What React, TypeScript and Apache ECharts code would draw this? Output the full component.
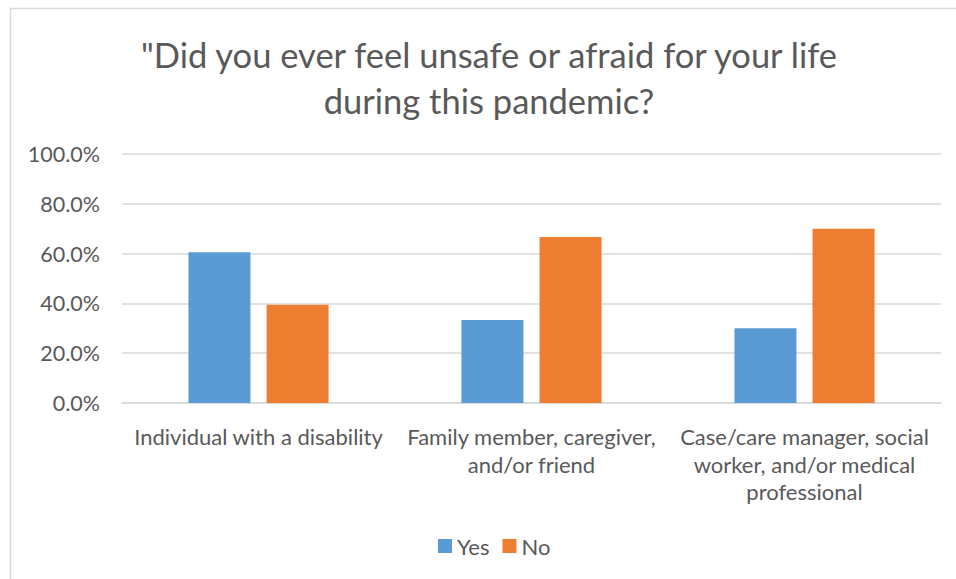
import React, { useEffect, useRef } from "react";
import * as echarts from "echarts";

const titleText = '"Did you ever feel unsafe or afraid for your life\nduring this pandemic?';
const categories = [
  "Individual with a disability",
  "Family member, caregiver,\nand/or friend",
  "Case/care manager, social\nworker, and/or medical\nprofessional",
];
const seriesNames = ["Yes", "No"];
const yesValues = [60.5, 33.3, 30.0];
const noValues = [39.5, 66.7, 70.0];
const colors = ["#5B9BD5", "#ED7D31"];

const FONT = "Lato, 'Open Sans', sans-serif";
const TEXT = "#595959";
const GRID = "#D9D9D9";

export default function App() {
  const ref = useRef<HTMLDivElement>(null);
  useEffect(() => {
    if (!ref.current) return;
    const chart = echarts.init(ref.current, null, { renderer: "svg" });
    chart.setOption({
      animation: false,
      backgroundColor: "#ffffff",
      textStyle: { fontFamily: FONT },
      graphic: [
        {
          type: "rect",
          shape: { x: 10.5, y: 8.5, width: 980, height: 600 },
          style: { fill: "none", stroke: GRID, lineWidth: 1.5 },
          silent: true,
        },
        {
          type: "text",
          x: 489,
          y: 31,
          style: {
            text: titleText,
            textAlign: "center",
            textVerticalAlign: "top",
            fill: TEXT,
            font: `34.5px ${FONT}`,
            lineHeight: 46,
          },
        },
      ],
      legend: {
        data: seriesNames,
        left: 438,
        top: 535,
        itemWidth: 14,
        itemHeight: 14,
        itemGap: 13,
        icon: "rect",
        textStyle: { color: TEXT, fontSize: 22, fontFamily: FONT },
        padding: 0,
      },
      grid: { left: 122, right: 15, top: 154, bottom: 176, containLabel: false },
      xAxis: {
        type: "category",
        data: categories,
        axisLine: { lineStyle: { color: GRID, width: 1.5 } },
        axisTick: { show: false },
        axisLabel: {
          color: TEXT,
          fontSize: 22,
          fontFamily: FONT,
          lineHeight: 27.5,
          margin: 20,
          interval: 0,
        },
      },
      yAxis: {
        type: "value",
        min: 0,
        max: 100,
        interval: 20,
        axisLine: { show: false },
        axisTick: { show: false },
        splitLine: { lineStyle: { color: GRID, width: 1.5 } },
        axisLabel: {
          color: TEXT,
          fontSize: 21.5,
          fontFamily: FONT,
          margin: 22,
          formatter: (v: number) => v.toFixed(1) + "%",
        },
      },
      series: [
        {
          name: seriesNames[0],
          type: "bar",
          data: yesValues,
          barWidth: 62,
          barGap: "26%",
          itemStyle: { color: colors[0] },
        },
        {
          name: seriesNames[1],
          type: "bar",
          data: noValues,
          barWidth: 62,
          barGap: "26%",
          itemStyle: { color: colors[1] },
        },
      ],
    });
    return () => chart.dispose();
  }, []);
  return (
    <div
      ref={ref}
      style={{ position: "fixed", left: 0, top: 0, width: 956, height: 579 }}
    />
  );
}
